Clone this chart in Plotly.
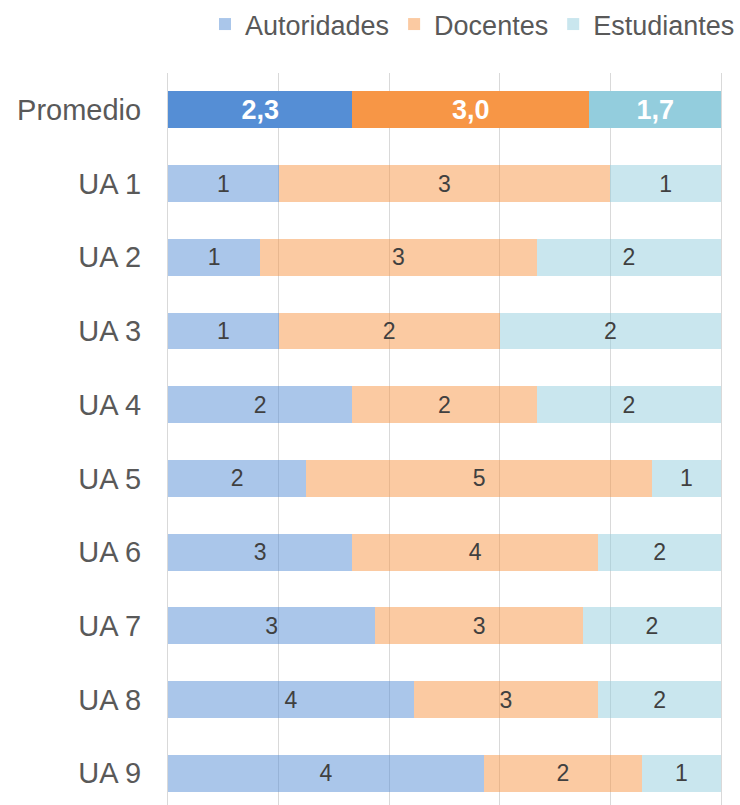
import plotly.graph_objects as go

categories = ["UA 1", "UA 2", "UA 3", "UA 4", "UA 5", "UA 6", "UA 7", "UA 8", "UA 9"]
autoridades = [1, 1, 1, 2, 2, 3, 3, 4, 4]
docentes = [3, 3, 2, 2, 5, 4, 3, 3, 2]
estudiantes = [1, 2, 2, 2, 1, 2, 2, 2, 1]
series_names = ["Autoridades", "Docentes", "Estudiantes"]
series_rgb = [(85, 142, 213), (247, 150, 70), (147, 205, 221)]

labels = ["Promedio"] + categories
series = [autoridades, docentes, estudiantes]

FONT = "Liberation Sans, Arial, sans-serif"

fig = go.Figure()
for name, vals, (r, g, b) in zip(series_names, series, series_rgb):
    avg = sum(vals) / len(vals)
    # UA rows first (their light colour is used for the legend swatch), Promedio last
    xs = vals + [avg]
    ys = categories + ["Promedio"]
    texts = [str(v) for v in vals] + ["<b>" + f"{avg:.1f}".replace(".", ",") + "</b>"]
    colors = [f"rgba({r},{g},{b},0.5)"] * len(vals) + [f"rgb({r},{g},{b})"]
    fig.add_trace(go.Bar(
        name=name,
        y=ys,
        x=xs,
        orientation="h",
        marker=dict(color=colors, line=dict(width=0)),
        text=texts,
        textposition="inside",
        insidetextanchor="middle",
        textangle=0,
        constraintext="none",
        textfont=dict(family=FONT, size=[23] * len(vals) + [27],
                      color=["#404040"] * len(vals) + ["#FFFFFF"]),
        hoverinfo="skip",
    ))

fig.update_layout(
    width=740, height=805,
    barmode="stack", barnorm="percent", bargap=0.5,
    separators=",.",
    paper_bgcolor="white", plot_bgcolor="white",
    margin=dict(l=168, r=18, t=73, b=0),
    font=dict(family=FONT, color="#595959"),
    showlegend=True,
    legend=dict(orientation="h", x=1.035, xanchor="right", y=1.1, yanchor="top",
                font=dict(size=27, color="#595959"),
                traceorder="normal", itemwidth=30, bgcolor="rgba(0,0,0,0)"),
    xaxis=dict(range=[0, 100], dtick=20, showgrid=True, gridcolor="#D9D9D9", gridwidth=1,
               showticklabels=False, zeroline=False, showline=False, fixedrange=True),
    yaxis=dict(categoryorder="array", categoryarray=labels, range=[9.43, -0.5],
               showgrid=False, showline=True, mirror=True, linecolor="#D9D9D9", linewidth=1,
               zeroline=False,
               tickfont=dict(size=29, color="#595959"), ticks="outside",
               ticklen=20, tickcolor="rgba(0,0,0,0)"),
)

fig.write_html("out.html")
